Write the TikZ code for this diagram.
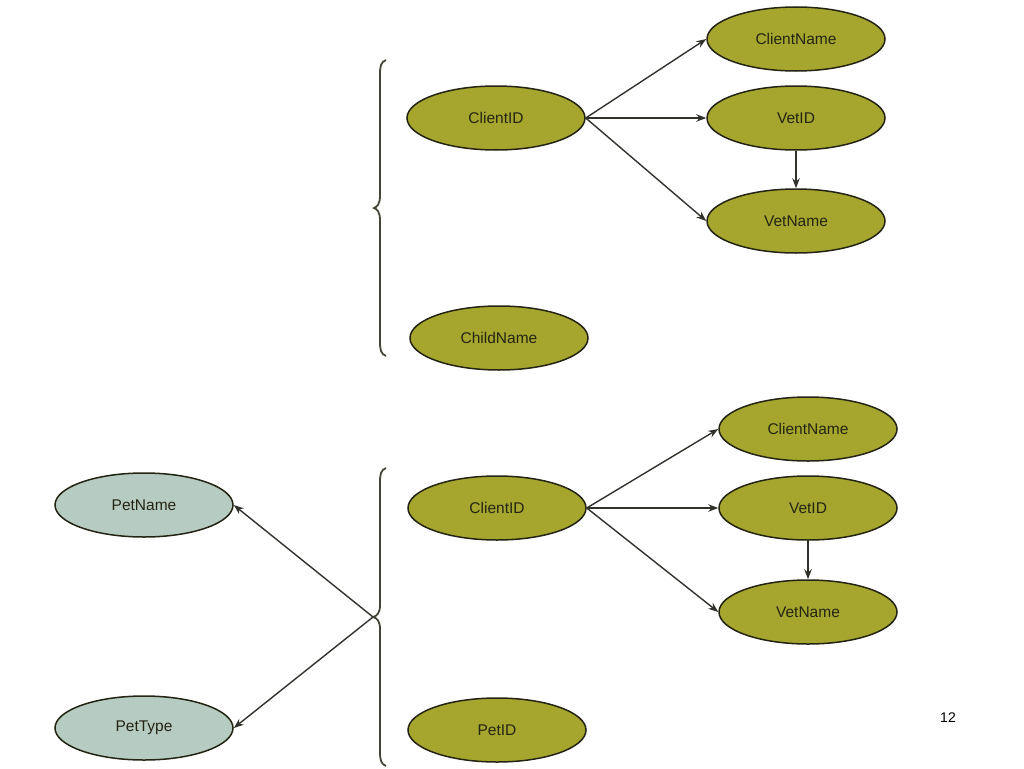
\documentclass[tikz,border=0pt]{standalone}
\usepackage{fontspec}
\setmainfont{Liberation Sans}
\usetikzlibrary{shapes.geometric,arrows.meta}
\definecolor{olive}{RGB}{166,166,46}
\definecolor{teal}{RGB}{182,204,194}
\definecolor{ink}{RGB}{36,36,20}
\definecolor{arr}{RGB}{50,50,45}
\tikzset{
  attr/.style={ellipse, draw=ink, line width=1.5pt, fill=olive, text=ink,
    minimum width=178pt, minimum height=64pt, inner sep=0pt, font=\fontsize{15.5}{18}\selectfont},
  pet/.style={attr, fill=teal},
  conn/.style={draw=arr, line width=1.4pt, -{Stealth[length=10pt,width=7.5pt]}},
  bracestyle/.style={draw=ink!85, line width=1.8pt}
}
\begin{document}
\begin{tikzpicture}[x=1pt,y=-1pt]
\useasboundingbox (0,0) rectangle (1024,768);
% top group
\node[attr] (cid1) at (496,118) {ClientID};
\node[attr] (cn1) at (796,39) {ClientName};
\node[attr] (vid1) at (796,118) {VetID};
\node[attr] (vn1) at (796,221) {VetName};
\node[attr] (ch1) at (499,338) {ChildName};
\coordinate (b1) at (374,208);
\draw[bracestyle] (386,60) .. controls (381,62) and (380,66) .. (380,74)
  -- (380,196) .. controls (380,204) and (377,207) .. (b1)
  .. controls (377,209) and (380,212) .. (380,220)
  -- (380,342) .. controls (380,350) and (381,354) .. (386,356);
\draw[conn] (cid1.east) -- (cn1.west);
\draw[conn] (cid1.east) -- (vid1.west);
\draw[conn] (cid1.east) -- (vn1.west);
\draw[conn] (vid1.south) -- (vn1.north);
% bottom group
\node[attr] (cid2) at (497,508) {ClientID};
\node[attr] (cn2) at (808,429) {ClientName};
\node[attr] (vid2) at (808,508) {VetID};
\node[attr] (vn2) at (808,612) {VetName};
\node[attr] (pid) at (497,730) {PetID};
\node[pet] (pn) at (144,505) {PetName};
\node[pet] (pt) at (144,728) {PetType};
\coordinate (b2) at (373,617);
\draw[bracestyle] (386,468) .. controls (381,470) and (380,474) .. (380,482)
  -- (380,605) .. controls (380,613) and (377,616) .. (b2)
  .. controls (377,618) and (380,621) .. (380,629)
  -- (380,752) .. controls (380,760) and (381,764) .. (386,766);
\draw[conn] (cid2.east) -- (cn2.west);
\draw[conn] (cid2.east) -- (vid2.west);
\draw[conn] (cid2.east) -- (vn2.west);
\draw[conn] (vid2.south) -- (vn2.north);
\draw[conn] (b2) -- (pn.east);
\draw[conn] (b2) -- (pt.east);
\node[font=\fontsize{14}{16}\selectfont] (pg) at (948,718) {12};
\end{tikzpicture}
\end{document}
